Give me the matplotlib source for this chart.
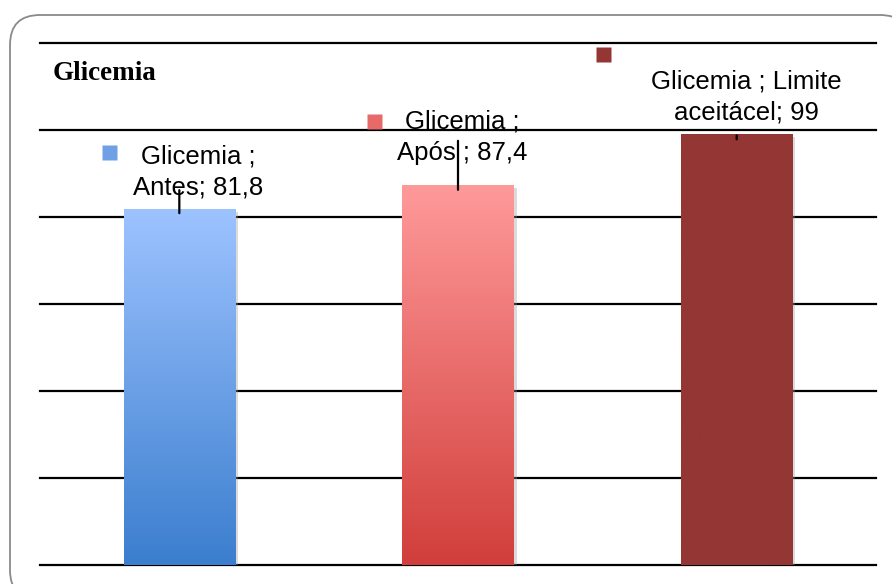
import numpy as np
import matplotlib
matplotlib.use("Agg")
import matplotlib.pyplot as plt
from matplotlib.patches import BoxStyle, Polygon
from matplotlib.transforms import IdentityTransform, offset_copy
from matplotlib import patheffects as pe
from matplotlib.colors import LinearSegmentedColormap

# dados
categorias = ["Antes", "Após ", "Limite aceitácel"]
valores = [81.8, 87.4, 99]
rotulos = ["Glicemia ;\nAntes; 81,8", "Glicemia ;\nApós ; 87,4", "Glicemia ; Limite\naceitácel; 99"]
cor_topo = ["#9DC3FF", "#FF9A9A", "#943634"]
cor_base = ["#3B7ECE", "#D13E3B", "#943634"]
cor_marca = ["#6FA0E6", "#E86A68", "#943634"]

fig = plt.figure(figsize=(8.92, 5.84), dpi=100)
ax = fig.add_axes([40 / 892, 1 - 565 / 584, 836 / 892, 522 / 584])

# moldura arredondada (convertida em polígono p/ evitar artefatos no recorte)
caminho = BoxStyle.Round(pad=0, rounding_size=30)(10, -16, 900, 585, 1.0)
moldura = Polygon(caminho.to_polygons(closed_only=False)[0], closed=True,
                  transform=IdentityTransform(), facecolor="none",
                  edgecolor="#8a8a8a", linewidth=1.3)
fig.patches.append(moldura)

x = np.arange(len(valores))
barras = ax.bar(x, valores, width=0.4, color=cor_base, zorder=2,
                path_effects=[pe.withSimplePatchShadow(offset=(2, -2), shadow_rgbFace="#999999", alpha=0.35)])

# gradiente vertical dentro de cada barra
for b, c1, c2 in zip(barras, cor_topo, cor_base):
    cmap = LinearSegmentedColormap.from_list("g", [c2, c1])
    grad = np.linspace(0, 1, 256).reshape(-1, 1)
    im = ax.imshow(grad, cmap=cmap, aspect="auto", origin="lower", zorder=3,
                   extent=(b.get_x(), b.get_x() + b.get_width(), 0, b.get_height()))
    im.set_clip_path(b)

ax.set_xlim(-0.5, 2.5)
ax.set_ylim(0, 120)
ax.set_yticks(np.arange(0, 121, 20))
ax.yaxis.grid(True, color="black", linewidth=1.6, zorder=1)
ax.set_axisbelow(True)
for g in ax.get_ygridlines():
    g.set_clip_on(False)
for s in ax.spines.values():
    s.set_visible(False)
ax.tick_params(left=False, bottom=False, labelleft=False, labelbottom=False)

# rótulos de dados (deslocamentos em pixels)
desloc_texto = [(19, 37), (4, 47.5), (10, 37.5)]
desloc_marca = [(-70, 57), (-84, 64), (-134, 80)]
linha_guia = [(-4, 19), (-5, 44), (-5, -1)]
for i, v in enumerate(valores):
    ax.annotate(rotulos[i], xy=(i, v), xytext=desloc_texto[i], textcoords="offset pixels",
                ha="center", va="center", multialignment="center", fontsize=18.5,
                family="Liberation Sans", linespacing=1.4, zorder=5)
    tr = offset_copy(ax.transData, fig=fig, x=desloc_marca[i][0], y=desloc_marca[i][1], units="dots")
    ax.plot(i, v, marker="s", ms=10.8, color=cor_marca[i], mec="none", transform=tr,
            clip_on=False, zorder=5)
    a, b2 = linha_guia[i]
    ax.annotate("", xy=(i, v), xycoords=offset_copy(ax.transData, fig=fig, y=a, units="dots"),
                xytext=(0, b2 - a), textcoords="offset pixels",
                arrowprops=dict(arrowstyle="-", lw=1.6, color="black", shrinkA=0, shrinkB=0),
                zorder=6)

fig.text(53 / 892, 1 - 73 / 584, "Glicemia", ha="left", va="center", fontsize=19.5,
         fontweight="bold", family="Liberation Serif")

fig.savefig("out.png", dpi=100)
